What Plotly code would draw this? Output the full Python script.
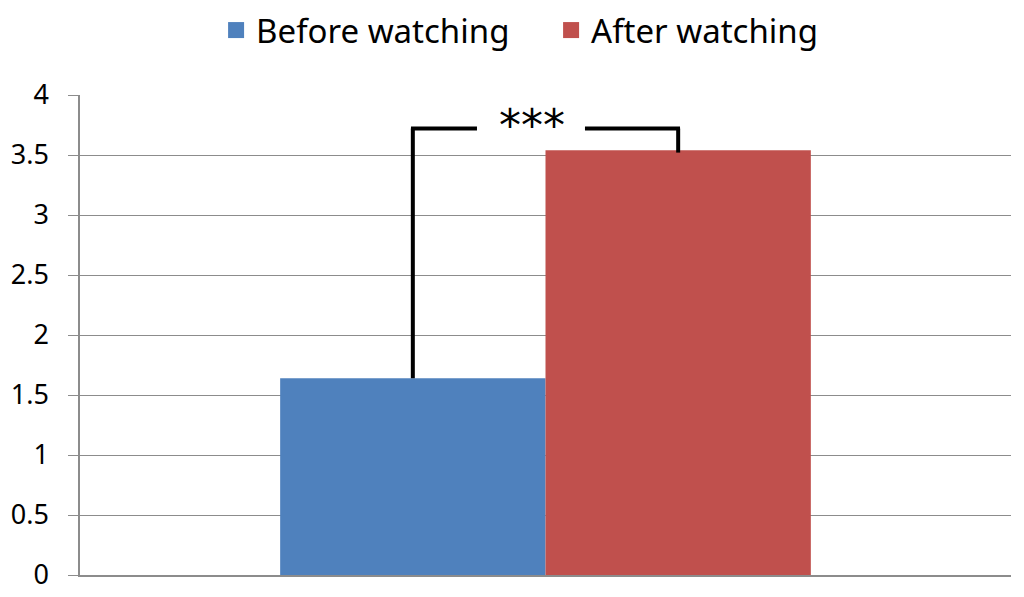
import plotly.graph_objects as go

categories = [""]
series_names = ["Before watching", "After watching"]
before_values = [1.64]
after_values = [3.54]
colors = ["#4F81BD", "#C0504D"]
y_ticks = [0, 0.5, 1, 1.5, 2, 2.5, 3, 3.5, 4]
y_tick_labels = ["0", "0.5", "1", "1.5", "2", "2.5", "3", "3.5", "4"]
bracket_top = 3.72
sig_label = "***"

fig = go.Figure()
fig.add_trace(go.Bar(x=categories, y=before_values, name=series_names[0], showlegend=False,
                     marker=dict(color=colors[0], line=dict(width=0))))
fig.add_trace(go.Bar(x=categories, y=after_values, name=series_names[1], showlegend=False,
                     marker=dict(color=colors[1], line=dict(width=0))))
# legend entries with larger square swatches
for name, c in zip(series_names, colors):
    fig.add_trace(go.Scatter(x=[None], y=[None], mode="markers", name=name,
                             marker=dict(symbol="square", size=18, color=c)))

bargap = 0.43
half = (1 - bargap) / 4  # center offset of each bar in group
xl, xr = -half, half
lw = 4
fig.add_shape(type="line", xref="x", yref="y", x0=xl, x1=xl, y0=before_values[0], y1=bracket_top,
              line=dict(color="black", width=lw))
fig.add_shape(type="line", xref="x", yref="y", x0=xl - 0.002, x1=-0.0736, y0=bracket_top, y1=bracket_top,
              line=dict(color="black", width=lw))
fig.add_shape(type="line", xref="x", yref="y", x0=0.0424, x1=xr + 0.002, y0=bracket_top, y1=bracket_top,
              line=dict(color="black", width=lw))
fig.add_shape(type="line", xref="x", yref="y", x0=xr, x1=xr, y0=bracket_top, y1=after_values[0] - 0.02,
              line=dict(color="black", width=lw))
fig.add_annotation(x=-0.0145, y=3.75, xref="x", yref="y", text=sig_label, showarrow=False,
                   font=dict(size=44, color="black", family="DejaVu Sans"), yanchor="middle")

fig.update_layout(
    width=1016, height=589,
    margin=dict(l=72, r=13, t=87, b=22, autoexpand=False),
    paper_bgcolor="white", plot_bgcolor="white",
    barmode="group", bargap=bargap, bargroupgap=0,
    font=dict(family="Noto Sans", color="black"),
    showlegend=True,
    legend=dict(orientation="h", x=0.506, y=1.1935, xanchor="center", yanchor="top",
                font=dict(size=33), itemwidth=30, traceorder="normal", tracegroupgap=0,
                entrywidth=290, entrywidthmode="pixels", borderwidth=0),
    xaxis=dict(range=[-0.5, 0.5], showticklabels=False, showgrid=False, zeroline=False,
               showline=True, linecolor="#8C8C8C", linewidth=2, ticks="", automargin=False),
    yaxis=dict(range=[0, 4], tickvals=y_ticks, ticktext=y_tick_labels, showgrid=True,
               gridcolor="#8C8C8C", gridwidth=1, zeroline=False, showline=True,
               linecolor="#8C8C8C", linewidth=1.5, ticks="outside", ticklen=10,
               tickcolor="#8C8C8C", tickfont=dict(size=27, family="Noto Sans"),
               ticklabelstandoff=14, automargin=False),
)

fig.write_html("out.html")
